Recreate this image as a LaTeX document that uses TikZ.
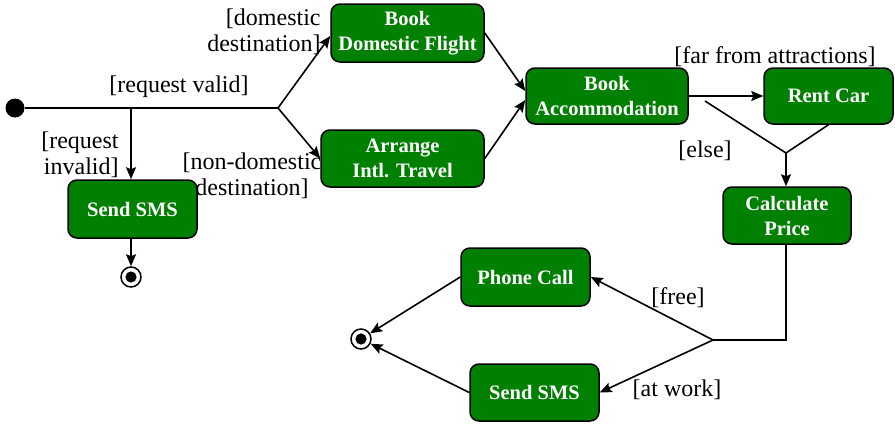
\documentclass[tikz,border=0pt]{standalone}
\usepackage{fontspec}
\setmainfont{Liberation Serif}
\usetikzlibrary{arrows.meta,calc}
\definecolor{actgreen}{RGB}{0,128,0}
\tikzset{
  act/.style={draw=black, line width=0.75pt, fill=actgreen, rounded corners=4.5pt,
    text=white, font=\fontsize{10.25}{12.5}\selectfont\bfseries, align=center, inner sep=0pt},
  lbl/.style={font=\fontsize{12}{13}\selectfont, inner sep=0pt},
  conn/.style={line width=0.8pt, draw=black},
  arr/.style={conn, -{Stealth[length=6pt,width=5pt,inset=1pt]}},
  startdot/.style={circle, fill=black, minimum size=9.5pt, inner sep=0pt},
  enddot/.style={circle, draw=black, line width=0.75pt, fill=white, minimum size=10pt, inner sep=0pt,
    path picture={\fill[black] (path picture bounding box.center) circle (2.8pt);}},
}
\begin{document}
\begin{tikzpicture}[x=0.5pt,y=-0.5pt]
\useasboundingbox (0,0) rectangle (895,424);
% activity nodes
\node[act, minimum width=76.5pt, minimum height=29pt] (bdf) at (407.5,33) {Book\\Domestic Flight};
\node[act, minimum width=81.5pt, minimum height=28.5pt] (ait) at (402.5,158.5) {Arrange\\Intl. Travel};
\node[act, minimum width=81pt, minimum height=28pt] (acc) at (607,96) {Book\\Accommodation};
\node[act, minimum width=64.5pt, minimum height=28pt] (car) at (828.5,96) {Rent Car};
\node[act, minimum width=64pt, minimum height=28.5pt] (calc) at (787,215.5) {Calculate\\Price};
\node[act, minimum width=64.5pt, minimum height=29pt] (sms1) at (132.5,209) {Send SMS};
\node[act, minimum width=64.5pt, minimum height=29pt] (phone) at (525.5,277) {Phone Call};
\node[act, minimum width=64.5pt, minimum height=28.5pt] (sms2) at (534.5,392.5) {Send SMS};
% start and end
\node[startdot] (start) at (15,108) {};
\node[enddot] (end1) at (131,277) {};
\node[enddot] (end2) at (361,339) {};
% junction coordinates
\coordinate (fork) at (278,108);
\coordinate (j1) at (131,108);
\coordinate (elsestart) at (705,101);
\coordinate (merge) at (786,153);
\coordinate (corner) at (786,340);
\coordinate (dec) at (713,340);
% connectors
\draw[conn] (start) -- (fork);
\draw[arr] (j1) -- (j1 |- sms1.north);
\draw[arr] (fork) -- ($(bdf.west)+(0,3)$);
\draw[arr] (fork) -- (ait.west);
\draw[arr] (bdf.east) -- ($(acc.west)+(0,-5)$);
\draw[arr] (ait.east) -- ($(acc.west)+(0,4)$);
\draw[arr] (acc.east) -- (car.west);
\draw[conn] (elsestart) -- (merge);
\draw[conn] (car.south) -- (merge);
\draw[arr] (merge) -- (merge |- calc.north);
\draw[conn] (merge |- calc.south) -- (corner) -- (dec);
\draw[arr] (dec) -- (phone.east);
\draw[arr] (dec) -- (sms2.east);
\draw[arr] (phone.west) -- (end2);
\draw[arr] (sms2.west) -- (end2);
\draw[arr] (sms1.south -| j1) -- (end1);
% labels
\node[lbl, align=right, anchor=east] (l1) at (321,32) {[domestic\\destination]};
\node[lbl] (l2) at (179,87) {[request valid]};
\node[lbl, align=right, anchor=east] (l3) at (119,155) {[request\\invalid]};
\node[lbl, align=center] (l4) at (252,176) {[non-domestic\\destination]};
\node[lbl] (l5) at (775,57) {[far from attractions]};
\node[lbl] (l6) at (705,151) {[else]};
\node[lbl] (l7) at (678,298) {[free]};
\node[lbl] (l8) at (677,390) {[at work]};
\end{tikzpicture}
\end{document}
